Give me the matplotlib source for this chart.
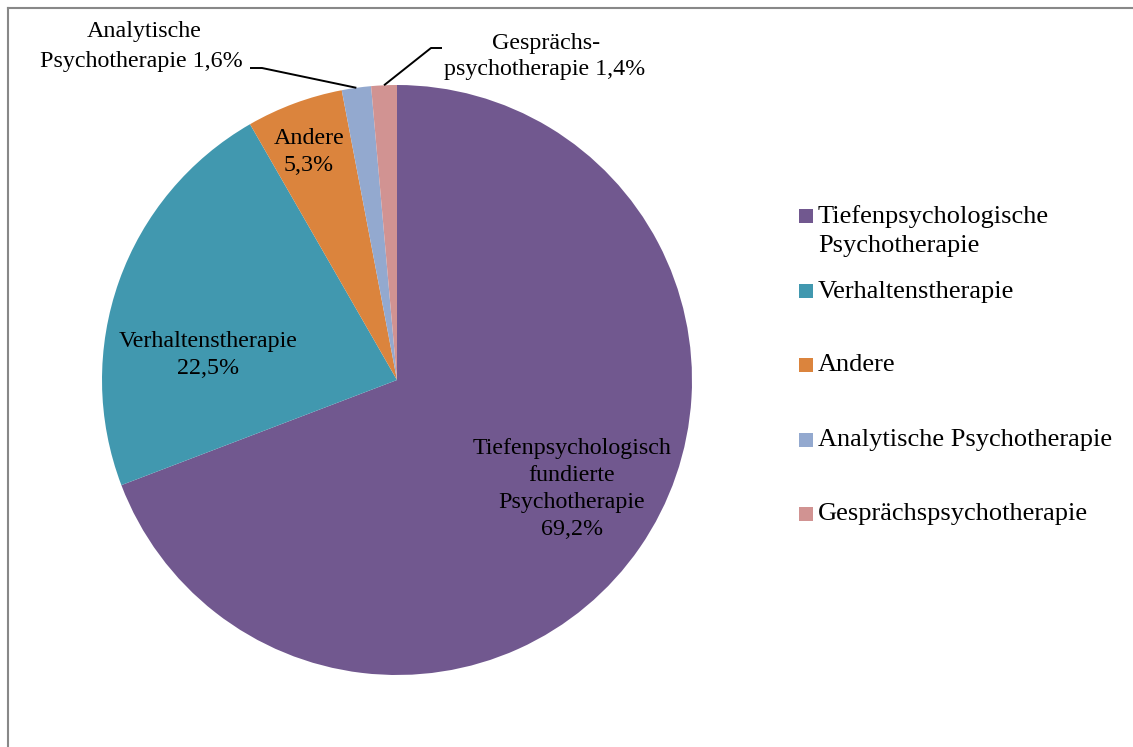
import numpy as np
import matplotlib
matplotlib.use("Agg")
import matplotlib.pyplot as plt
from matplotlib.lines import Line2D
from matplotlib.patches import Rectangle

plt.rcParams['font.family'] = ['Liberation Serif', 'DejaVu Serif']

# Anteile der Therapieverfahren (in %)
slice_labels = [
    "Tiefenpsychologisch\nfundierte\nPsychotherapie",
    "Verhaltenstherapie",
    "Andere",
    "Analytische\nPsychotherapie",
    "Gesprächs-\npsychotherapie",
]
legend_labels = [
    "Tiefenpsychologische\nPsychotherapie",
    "Verhaltenstherapie",
    "Andere",
    "Analytische Psychotherapie",
    "Gesprächspsychotherapie",
]
shares = [69.2, 22.5, 5.3, 1.6, 1.4]
colors = ["#71588F", "#4198AF", "#DB843D", "#93A9CF", "#D19392"]

W, H = 1133, 747
fig = plt.figure(figsize=(W / 100, H / 100), dpi=100)

# pie centre and radius in pixels
cx, cy, R = 397, 380, 295
ax = fig.add_axes([(cx - R) / W, (H - cy - R) / H, 2 * R / W, 2 * R / H])

wedges, _ = ax.pie(shares, colors=colors, startangle=90, counterclock=False,
                   radius=1, center=(0, 0), frame=False)
ax.set_xlim(-1, 1)
ax.set_ylim(-1, 1)
ax.set_aspect('equal')
ax.axis('off')


def pct(v):
    return f"{v:.1f}".replace('.', ',') + '%'


def px2data(px, py):
    return (px - cx) / R, (cy - py) / R


fs = 17.3

# labels inside the large slices (pixel centres)
inside_pos = {0: (572, 489), 1: (208, 355), 2: (309, 152)}
for i, (px, py) in inside_pos.items():
    x, y = px2data(px, py)
    ax.text(x, y, f"{slice_labels[i]}\n{pct(shares[i])}", ha='center',
            va='center', fontsize=fs, linespacing=1.38, color='black')


# small slices: outside labels with leader lines
def edge_point(i):
    w = wedges[i]
    mid = np.deg2rad((w.theta1 + w.theta2) / 2)
    return np.cos(mid), np.sin(mid)


def leader(i, p_end, p_knee):
    ex, ey = edge_point(i)
    a = px2data(*p_end)
    b = px2data(*p_knee)
    ax.plot([a[0], b[0], ex], [a[1], b[1], ey], color='black', lw=1.4,
            clip_on=False, solid_capstyle='butt')


# Analytische Psychotherapie
leader(3, (250, 68), (262, 68))
head, tail = slice_labels[3].split('\n')
ax.text(*px2data(144, 31), head, ha='center', va='center', fontsize=fs,
        clip_on=False)
ax.text(*px2data(243, 61), f"{tail} {pct(shares[3])}", ha='right',
        va='center', fontsize=fs, clip_on=False)

# Gesprächspsychotherapie
leader(4, (442, 48), (431, 48))
head, tail = slice_labels[4].split('\n')
ax.text(*px2data(546, 43), head, ha='center', va='center', fontsize=fs,
        clip_on=False)
ax.text(*px2data(444, 69), f"{tail} {pct(shares[4])}", ha='left',
        va='center', fontsize=fs, clip_on=False)

# legend on the right
square_y = [215.5, 291, 365, 440, 514]
text_y = [231, 292, 365, 440, 514]
sq = 14
for lab, col, ys, yt in zip(legend_labels, colors, square_y, text_y):
    fig.add_artist(Rectangle((799 / W, (H - ys - sq / 2) / H), sq / W, sq / H,
                             transform=fig.transFigure, facecolor=col,
                             edgecolor='none'))
    fig.text(818 / W, (H - yt) / H, lab, ha='left', va='center',
             fontsize=19, linespacing=1.38, color='black',
             transform=fig.transFigure)

# chart area border (top and left edges visible)
fig.add_artist(Line2D([8 / W, 1], [1 - 8 / H, 1 - 8 / H], color='#888888',
                      lw=1.5, transform=fig.transFigure))
fig.add_artist(Line2D([8 / W, 8 / W], [0, 1 - 8 / H], color='#888888',
                      lw=1.5, transform=fig.transFigure))

fig.savefig("out.png", dpi=100, facecolor='white')
